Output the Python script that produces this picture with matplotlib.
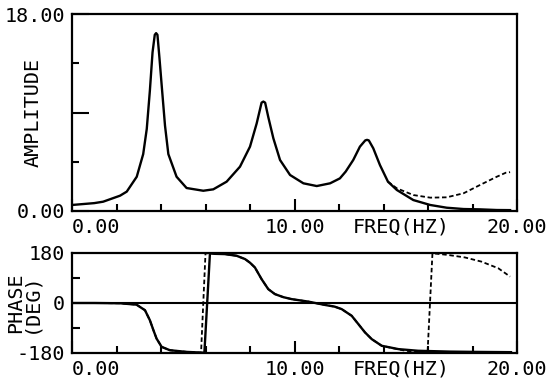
import matplotlib
matplotlib.use("Agg")
import matplotlib.pyplot as plt
from matplotlib.ticker import FixedLocator

# ---------------- data ----------------
amp_freq = [0.0, 1.0, 1.4, 2.16, 2.46, 2.91, 3.2, 3.36, 3.5, 3.62, 3.72, 3.78,
            3.84, 3.93, 4.03, 4.18, 4.33, 4.7, 5.15, 5.9, 6.35, 6.95, 7.55,
            8.0, 8.3, 8.52, 8.6, 8.68, 8.82, 9.05, 9.35, 9.8, 10.4, 11.0, 11.6,
            12.04, 12.3, 12.64, 12.94, 13.18, 13.26, 13.34, 13.54, 13.84, 14.2,
            14.6, 15.34, 16.1, 16.84, 17.6, 18.34, 19.09, 19.69]
amp_solid = [0.55, 0.72, 0.85, 1.4, 1.77, 3.13, 5.2, 7.5, 11.0, 14.5, 16.1, 16.25,
             16.1, 14.0, 11.5, 7.8, 5.2, 3.13, 2.1, 1.85, 1.98, 2.68, 4.05,
             5.88, 8.0, 9.9, 10.0, 9.9, 8.6, 6.64, 4.66, 3.29, 2.53, 2.28, 2.53,
             2.98, 3.6, 4.66, 5.88, 6.45, 6.5, 6.45, 5.73, 4.2, 2.68,
             1.92, 1.0, 0.55, 0.3, 0.18, 0.15, 0.09, 0.08]
# dashed amplitude: equal to the solid one up to 14.2 Hz, then its own tail
amp_dash_tail_freq = [14.2, 14.6, 15.34, 16.1, 16.84, 17.6, 18.34, 19.09, 19.5, 19.69]
amp_dash_tail = [2.68, 2.07, 1.46, 1.22, 1.25, 1.62, 2.38, 3.13, 3.5, 3.55]

ph_freq = [0.0, 1.0, 2.16, 2.9, 3.28, 3.5, 3.66, 3.8, 4.03, 4.4, 5.15, 5.95,
           6.2, 6.43, 6.88, 7.4, 7.78, 8.0, 8.22, 8.52, 8.82, 9.12, 9.5, 9.87,
           10.62, 11.37, 11.8, 12.12, 12.57, 12.87, 13.17, 13.47, 13.92, 14.67,
           15.56, 17.0, 18.1, 19.73]
ph_solid = [0, 0, -1, -6, -26, -62, -98, -128, -158, -170, -176, -179,
            179, 177, 176, 170, 158, 145, 128, 86, 50, 32, 21, 14,
            5, -7, -13, -22, -46, -76, -106, -130, -154, -166,
            -172, -175, -176, -177]
ph_dash_freq = [0.0, 1.0, 2.16, 2.9, 3.28, 3.5, 3.66, 3.8, 4.03, 4.4, 5.15, 5.8,
                6.0, 6.2, 6.43, 6.88, 7.4, 7.78, 8.0, 8.22, 8.52, 8.82, 9.12,
                9.5, 9.87, 10.62, 11.37, 11.8, 12.12, 12.57, 12.87, 13.17, 13.47,
                13.92, 14.67, 15.0, 15.5, 15.98, 16.2, 16.9, 17.66, 18.4, 19.16,
                19.69]
ph_dash = [0, 0, -1, -6, -26, -62, -98, -128, -158, -170, -176, -179,
           179, 179, 177, 176, 170, 158, 145, 128, 86, 50, 32,
           21, 14, 5, -7, -13, -22, -46, -76, -106, -130,
           -154, -167, -172, -176, -179, 179, 173, 164, 149, 125, 95]

x_major = [0, 10, 20]
x_major_labels = ["0.00", "10.00", "20.00"]
x_minor = [2, 4, 6, 8, 12, 14, 16, 18]

# ---------------- figure ----------------
plt.rcParams["font.family"] = ["DejaVu Sans Mono", "DejaVu Sans"]
FS = 14.5
PAD = 5
fig = plt.figure(figsize=(5.51, 3.81), dpi=100)
ax1 = fig.add_axes([72 / 551, 1 - 211 / 381, 445 / 551, 197 / 381])
ax2 = fig.add_axes([72 / 551, 1 - 353 / 381, 445 / 551, 100 / 381])

for ax in (ax1, ax2):
    ax.set_xlim(0, 20)
    for s in ax.spines.values():
        s.set_linewidth(1.6)
    ax.xaxis.set_major_locator(FixedLocator(x_major))
    ax.set_xticklabels(x_major_labels, fontsize=FS)
    ax.xaxis.set_minor_locator(FixedLocator(x_minor))
    ax.tick_params(axis="x", which="major", direction="in", length=9, width=1.5, pad=PAD)
    ax.tick_params(axis="x", which="minor", direction="in", length=5, width=1.5)
    ax.tick_params(axis="y", which="both", direction="in", width=1.5)
    ax.tick_params(axis="y", which="major", labelsize=FS, pad=5)
    ax.xaxis.get_majorticklabels()[0].set_horizontalalignment("left")
    ax.annotate("FREQ(HZ)", xy=(14.8, 0), xycoords=("data", "axes fraction"),
                xytext=(0, -PAD), textcoords="offset points",
                ha="center", va="top", fontsize=FS)

# top panel: amplitude
ax1.set_ylim(0, 18)
ax1.yaxis.set_major_locator(FixedLocator([0, 9, 18]))
ax1.set_yticklabels(["0.00", "", "18.00"])
ax1.yaxis.set_minor_locator(FixedLocator([4.5, 13.5]))
ax1.tick_params(axis="y", which="major", length=12)
ax1.tick_params(axis="y", which="minor", length=5)
ax1.set_ylabel("AMPLITUDE", fontsize=FS)
ax1.yaxis.set_label_coords(-0.067, 0.5)

ax1.plot(amp_dash_tail_freq, amp_dash_tail, color="black", lw=1.3,
         linestyle=(0, (2.5, 1.5)))
ax1.plot(amp_freq, amp_solid, color="black", lw=1.7, solid_joinstyle="round")

# bottom panel: phase
ax2.set_ylim(-180, 180)
ax2.yaxis.set_major_locator(FixedLocator([-180, 0, 180]))
ax2.set_yticklabels(["-180", "0", "180"])
ax2.yaxis.set_minor_locator(FixedLocator([-90, 90]))
ax2.tick_params(axis="y", which="major", length=0)
ax2.tick_params(axis="y", which="minor", length=6)
ax2.axhline(0, color="black", lw=1.5)
ax2.set_ylabel("PHASE\n(DEG)", fontsize=FS, linespacing=0.75)
ax2.yaxis.set_label_coords(-0.072, 0.5)

ax2.plot(ph_dash_freq, ph_dash, color="black", lw=1.3, linestyle=(0, (2.5, 1.5)))
ax2.plot(ph_freq, ph_solid, color="black", lw=1.7)

fig.savefig("out.png", dpi=100)
